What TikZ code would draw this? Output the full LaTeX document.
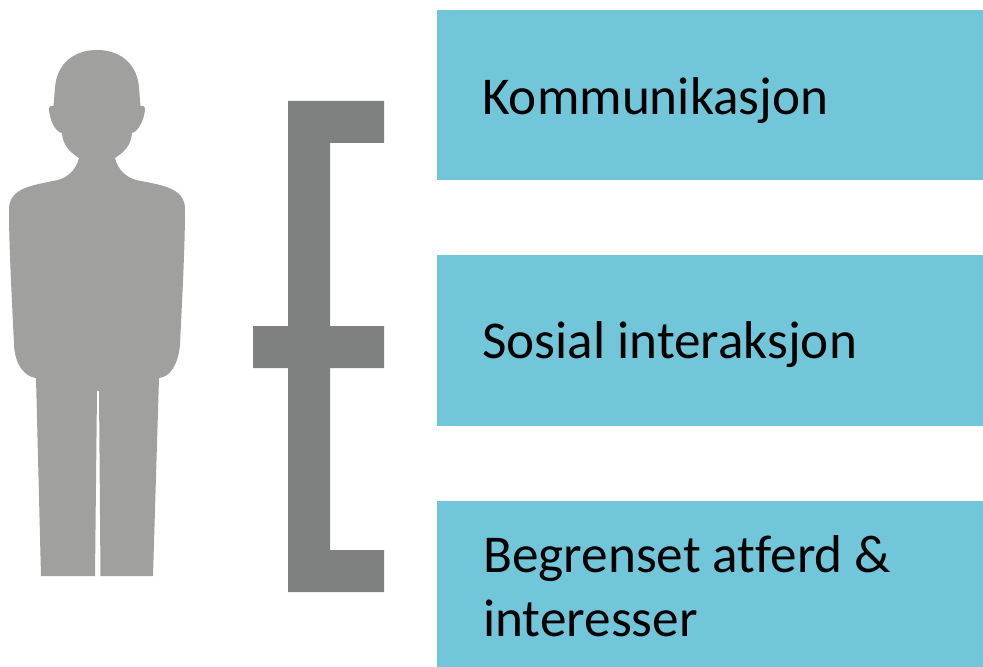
\documentclass[tikz,border=0pt]{standalone}
\usepackage{fontspec}
\setmainfont[Ligatures=NoCommon]{Carlito}
\definecolor{boxblue}{HTML}{72C6D9}
\definecolor{bargrey}{HTML}{7F8180}
\definecolor{persongrey}{HTML}{A0A09F}
\tikzset{
  bluebox/.style={fill=boxblue,draw=none},
  barpart/.style={fill=bargrey,draw=none},
  boxlabel/.style={anchor=base west,inner sep=0pt,font=\fontsize{39.9}{48}\selectfont,text=black,align=left}
}
\begin{document}
\begin{tikzpicture}[x=0.75pt,y=-0.75pt]
\useasboundingbox (0,0) rectangle (983,667);
% boxes
\fill[bluebox] (437,10) rectangle (983,180);
\fill[bluebox] (437,255) rectangle (983,426);
\fill[bluebox] (437,501) rectangle (983,667);
\node[boxlabel] (k) at (482,114.5) {Kommunikasjon};
\node[boxlabel] (s) at (482,358) {Sosial interaksjon};
\node[boxlabel] (b1) at (483,572) {Begrenset atferd \&};
\node[boxlabel] (b2) at (483,636) {interesser};
% bracket
\fill[barpart] (288,101) -- (384,101) -- (384,143) -- (330,143) -- (330,326) -- (384,326) -- (384,368) -- (330,368) -- (330,550) -- (384,550) -- (384,592) -- (288,592) -- (288,368) -- (253,368) -- (253,326) -- (288,326) -- cycle;
% person
\fill[persongrey] (97,50)
  .. controls (70,50) and (56,68) .. (55,88)
  -- (53.5,106)
  .. controls (50,105) and (49,107) .. (49,110)
  .. controls (50,120) and (55,132) .. (62,133)
  .. controls (63,146) and (70,152) .. (79,158)
  .. controls (76,170) and (68,177) .. (58,180)
  .. controls (35,185) and (10,187) .. (9,208)
  .. controls (9,250) and (12,300) .. (14,345)
  .. controls (15,365) and (25,377) .. (36,378)
  -- (41,576) -- (95,576) -- (97,391) -- (99,391) -- (100.5,576) -- (153,576) -- (159,378)
  .. controls (170,377) and (178,365) .. (180,345)
  .. controls (182,300) and (185,250) .. (185,208)
  .. controls (184,187) and (160,185) .. (136,180)
  .. controls (126,177) and (118,170) .. (115,158)
  .. controls (124,152) and (131,146) .. (132,133)
  .. controls (138,132) and (144,120) .. (145,110)
  .. controls (145,107) and (144,105) .. (140.5,106)
  -- (139,88)
  .. controls (138,68) and (124,50) .. (97,50) -- cycle;
\end{tikzpicture}
\end{document}
